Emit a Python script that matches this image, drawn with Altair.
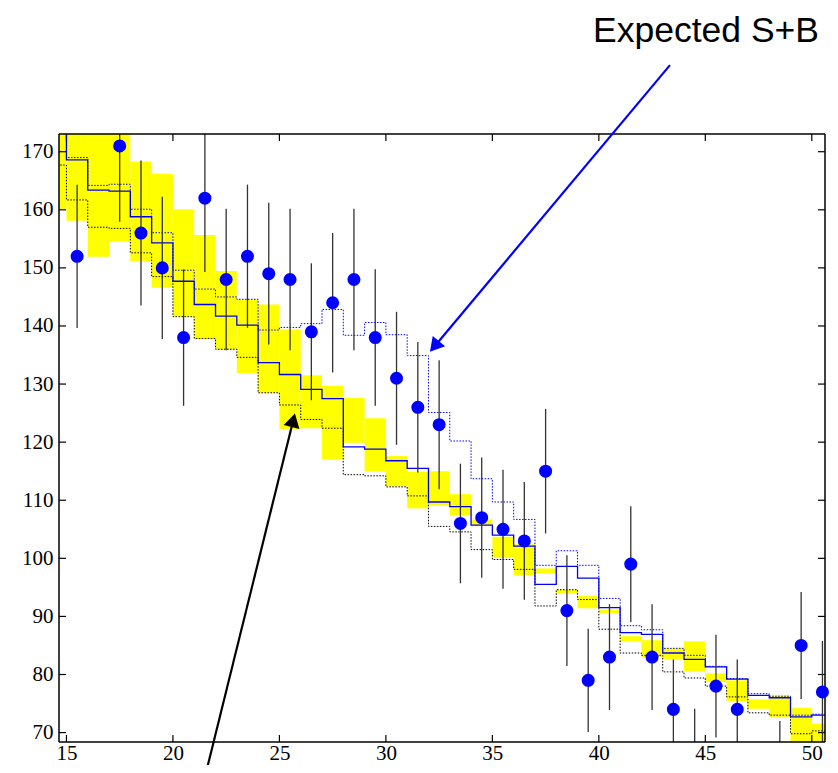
import altair as alt
import pandas as pd

# ---------------- data ----------------
bin_lo = list(range(14, 51))          # bin left edges 14..50 (bins are 1 wide)

band_lo = [160.1, 158.1, 151.9, 154.5, 151.2, 146.6, 141.6, 137.7, 135.85, 131.9,
           128.5, 122.2, 122.4, 117.0, 119.9, 115.0, 112.4, 108.6, 109.15, 107.4,
           105.7, 100.1, 97.1, 97.4, 93.9, 91.4, 90.6, 85.7, 83.0, 82.6,
           80.6, 78.7, 75.4, 74.1, 72.7, 67.5, 67.5]
band_hi = [180.0, 179.0, 175.0, 174.0, 168.3, 166.2, 160.1, 155.65, 149.45, 144.6,
           143.7, 139.4, 131.5, 129.65, 127.6, 124.1, 117.6, 114.9, 115.0, 111.05,
           106.7, 103.7, 102.4, 98.25, 94.6, 93.5, 91.2, 86.6, 85.9, 84.6,
           85.7, 80.2, 79.0, 75.7, 76.4, 74.25, 71.55]
bkg = [178.0, 168.6, 163.4, 163.2, 158.8, 154.3, 147.7, 143.7, 141.7, 140.15,
       133.7, 131.65, 129.1, 127.5, 119.2, 118.8, 116.8, 115.5, 109.7, 108.9,
       105.7, 104.0, 102.1, 95.5, 98.6, 96.6, 91.5, 87.2, 86.9, 83.7,
       82.6, 81.3, 79.2, 76.4, 76.0, 72.7, 73.0]
spb = [179.0, 169.0, 164.2, 164.4, 160.1, 156.05, 149.6, 146.35, 145.0, 144.6,
       139.3, 139.75, 140.4, 142.85, 138.4, 140.6, 138.5, 134.9, 125.1, 120.2,
       113.7, 109.7, 106.7, 98.8, 101.3, 98.8, 93.1, 88.4, 87.7, 84.5,
       83.3, 81.4, 79.3, 76.7, 76.26, 73.0, 73.16]
alt_bkg = [167.7, 161.7, 157.0, 156.8, 152.6, 148.5, 141.6, 137.85, 136.0, 134.6,
           128.5, 126.4, 123.9, 122.4, 114.4, 114.2, 112.3, 110.75, 105.5, 104.55,
           101.5, 99.8, 98.1, 91.8, 94.6, 92.9, 87.8, 83.7, 83.3, 80.45,
           79.4, 78.0, 76.15, 73.4, 73.0, 69.8, 70.3]

pt_x = [15.5, 17.5, 18.5, 19.5, 20.5, 21.5, 22.5, 23.5, 24.5, 25.5, 26.5, 27.5,
        28.5, 29.5, 30.5, 31.5, 32.5, 33.5, 34.5, 35.5, 36.5, 37.5, 38.5, 39.5,
        40.5, 41.5, 42.5, 43.5, 44.5, 45.5, 46.5, 48.5, 49.5, 50.5]
pt_n = [152, 171, 156, 150, 138, 162, 148, 152, 149, 148, 139, 144,
        148, 138, 131, 126, 123, 106, 107, 105, 103, 115, 91, 79,
        83, 99, 83, 74, 66, 78, 74, 64, 85, 77]

x_ticks = [15, 20, 25, 30, 35, 40, 45, 50]
y_ticks = [70, 80, 90, 100, 110, 120, 130, 140, 150, 160, 170]

# annotation anchors (data coordinates)
label_text = "Expected S+B"
label_pos = (50.34, 188.9)
blue_arrow = [(43.34, 184.9), (32.28, 136.48)]
blue_head_angle = 219.9
black_arrow = [(21.58, 63.5), (25.65, 123.77)]
black_head_angle = 13.9

# ---------------- chart ----------------
W, H = 766, 608
X_DOM = [14.65, 50.62]
Y_DOM = [68.38, 173.05]
xs = alt.Scale(domain=X_DOM, nice=False, zero=False)
ys = alt.Scale(domain=Y_DOM, nice=False, zero=False)

band_df = pd.DataFrame({"x0": bin_lo, "x1": [b + 1 for b in bin_lo],
                        "lo": band_lo, "hi": band_hi})

def step_df(vals):
    return pd.DataFrame({"x": bin_lo + [bin_lo[-1] + 1], "y": vals + [vals[-1]]})

pts_df = pd.DataFrame({"x": pt_x, "n": pt_n})
one = pd.DataFrame({"k": [0]})
xt_df = pd.DataFrame({"v": x_ticks})
yt_df = pd.DataFrame({"v": y_ticks})

serif = "Liberation Serif"

def X(f):
    return alt.X(f, scale=xs, title=None)

def Y(f):
    return alt.Y(f, scale=ys, title=None)

band = alt.Chart(band_df).mark_rect(color="#ffff00", clip=True).encode(
    x=alt.X("x0:Q", scale=xs, title=None,
            axis=alt.Axis(values=x_ticks, domain=False, ticks=False, grid=False,
                          labelFont=serif, labelFontSize=21, labelPadding=0,
                          labelColor="black", title=None, format="d")),
    x2="x1:Q",
    y=alt.Y("lo:Q", scale=ys, title=None,
            axis=alt.Axis(values=y_ticks, domain=False, ticks=False, grid=False,
                          labelFont=serif, labelFontSize=21, labelPadding=6,
                          labelColor="black", title=None, format="d")),
    y2="hi:Q",
)

def step_layer(vals, color, width, dash=None):
    kw = dict(interpolate="step-after", color=color, strokeWidth=width, clip=True)
    if dash:
        kw["strokeDash"] = dash
    return alt.Chart(step_df(vals)).mark_line(**kw).encode(x=X("x:Q"), y=Y("y:Q"))

l_alt = step_layer(alt_bkg, "#000000", 1.0, [1.5, 1.5])
l_spb = step_layer(spb, "#0000ff", 1.0, [1.5, 1.5])
l_bkg = step_layer(bkg, "#0000ff", 1.3)

errs = alt.Chart(pts_df).transform_calculate(
    lo="datum.n - sqrt(datum.n)", hi="datum.n + sqrt(datum.n)"
).mark_rule(color="#333333", strokeWidth=1.3, clip=True).encode(
    x=X("x:Q"), y=Y("lo:Q"), y2="hi:Q",
)
points = alt.Chart(pts_df).transform_filter(
    f"datum.n >= {Y_DOM[0]} && datum.n <= {Y_DOM[1]}"
).mark_circle(color="#0000ff", opacity=1, size=170, clip=False).encode(
    x=X("x:Q"), y=Y("n:Q"),
)

def rule(**enc):
    return alt.Chart(one).mark_rule(color="black", strokeWidth=1.5).encode(**enc)

left_spine = rule(x=alt.value(0), y=alt.value(0), y2=alt.value(H))
top_spine = rule(x=alt.value(0), x2=alt.value(W), y=alt.value(0))
right_spine = rule(x=alt.value(W), y=alt.value(0), y2=alt.value(H))
bottom_spine = rule(x=alt.value(0), x2=alt.value(W), y=alt.value(H))

TL = 7
tick_style = dict(color="black", strokeWidth=1.2)
xt_bottom = alt.Chart(xt_df).mark_rule(**tick_style).encode(
    x=X("v:Q"), y=alt.value(H - TL), y2=alt.value(H))
xt_top = alt.Chart(xt_df).mark_rule(**tick_style).encode(
    x=X("v:Q"), y=alt.value(0), y2=alt.value(TL))
yt_left = alt.Chart(yt_df).mark_rule(**tick_style).encode(
    y=Y("v:Q"), x=alt.value(0), x2=alt.value(TL))
yt_right = alt.Chart(yt_df).mark_rule(**tick_style).encode(
    y=Y("v:Q"), x=alt.value(W - TL), x2=alt.value(W))

def arrow(pts, angle, color):
    df = pd.DataFrame({"x": [p[0] for p in pts], "y": [p[1] for p in pts], "o": [0, 1]})
    shaft = alt.Chart(df).mark_line(color=color, strokeWidth=2.2, clip=False).encode(
        x=X("x:Q"), y=Y("y:Q"), order="o:Q",
    )
    head = alt.Chart(df.iloc[[1]]).mark_point(
        shape="triangle-up", filled=True, size=260, color=color, opacity=1,
        angle=angle, clip=False
    ).encode(x=X("x:Q"), y=Y("y:Q"))
    return shaft + head

blue_arr = arrow(blue_arrow, blue_head_angle, "#0000ff")
black_arr = arrow(black_arrow, black_head_angle, "#000000")

label = alt.Chart(pd.DataFrame({"x": [label_pos[0]], "y": [label_pos[1]], "t": [label_text]})).mark_text(
    align="right", baseline="alphabetic", font="Liberation Sans", fontSize=35.5,
    color="black", clip=False
).encode(x=X("x:Q"), y=Y("y:Q"), text="t:N")

chart = alt.layer(
    band, xt_bottom, xt_top, yt_left, yt_right, left_spine,
    l_alt, l_spb, l_bkg, errs,
    top_spine, right_spine, bottom_spine, points,
    blue_arr, black_arr, label,
).properties(
    width=W, height=H,
    autosize=alt.AutoSizeParams(type="none"),
    padding={"left": 51, "top": 126, "right": 5, "bottom": 23},
    background="white",
).configure_view(stroke=None)

chart.save("out.html", embed_options={"renderer": "svg", "actions": False})
